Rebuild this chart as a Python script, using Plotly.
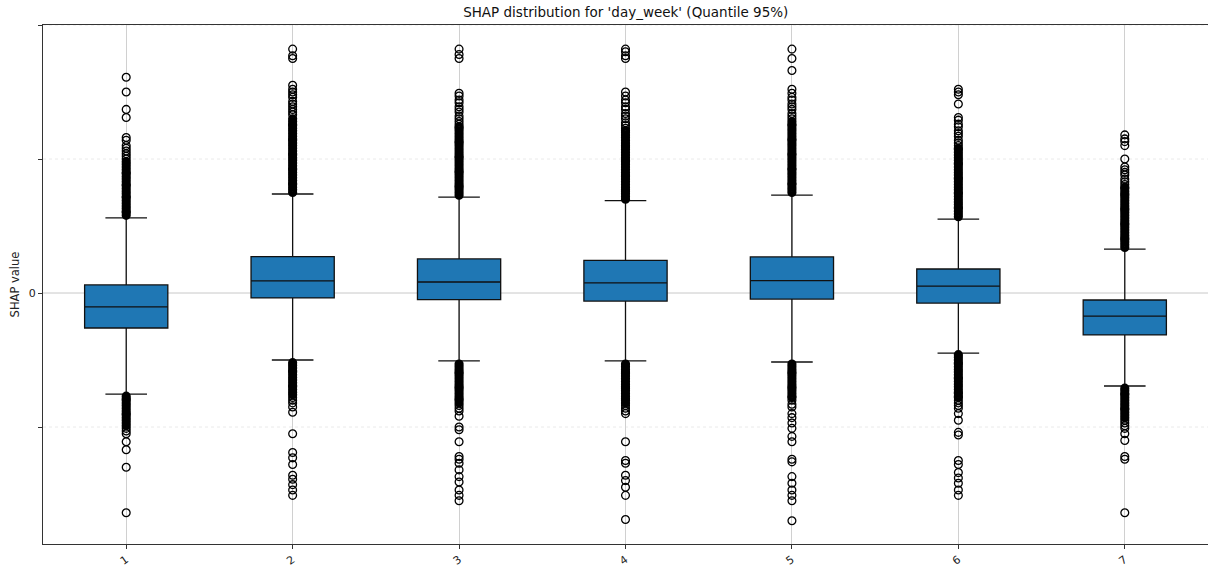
import plotly.graph_objects as go

# Day-of-week categories
days = ["1", "2", "3", "4", "5", "6", "7"]

# Box statistics per day (SHAP value units)
q1 = [-0.0261, -0.0037, -0.0049, -0.0060, -0.0045, -0.0075, -0.0313]
median = [-0.0104, 0.0090, 0.0082, 0.0075, 0.0093, 0.0052, -0.0172]
q3 = [0.0060, 0.0272, 0.0254, 0.0243, 0.0269, 0.0179, -0.0052]
lower_whisker = [-0.0754, -0.0500, -0.0507, -0.0507, -0.0515, -0.0448, -0.0694]
upper_whisker = [0.0560, 0.0739, 0.0716, 0.0690, 0.0731, 0.0552, 0.0328]

# Outliers lying in the densely packed runs just beyond each whisker
dense_outliers = [
    [0.058, 0.060, 0.061, 0.063, 0.065, 0.067, 0.069, 0.071, 0.072, 0.074, 0.076, 0.078, 0.080, 0.081,
     0.083, 0.085, 0.087, 0.089, 0.090, 0.092, 0.094, 0.096, 0.098,
     -0.077, -0.079, -0.080, -0.082, -0.084, -0.086, -0.088, -0.090, -0.091, -0.093, -0.095, -0.097, -0.099],
    [0.075, 0.077, 0.079, 0.081, 0.082, 0.084, 0.086, 0.088, 0.090, 0.092, 0.093, 0.095, 0.097, 0.099,
     0.101, 0.103, 0.104, 0.106, 0.108, 0.110, 0.112, 0.114, 0.115, 0.117, 0.119, 0.121, 0.123, 0.125,
     0.126, 0.128, 0.130,
     -0.052, -0.054, -0.056, -0.058, -0.059, -0.061, -0.063, -0.065, -0.067, -0.069, -0.070, -0.072,
     -0.074, -0.076],
    [0.073, 0.075, 0.077, 0.079, 0.080, 0.082, 0.084, 0.086, 0.088, 0.090, 0.091, 0.093, 0.095, 0.097,
     0.099, 0.101, 0.102, 0.104, 0.106, 0.108, 0.110, 0.112, 0.113, 0.115, 0.117, 0.119, 0.121, 0.123,
     0.124,
     -0.053, -0.055, -0.057, -0.059, -0.060, -0.062, -0.064, -0.066, -0.068, -0.070, -0.071, -0.073,
     -0.075, -0.077, -0.079, -0.080, -0.082],
    [0.070, 0.072, 0.074, 0.076, 0.077, 0.079, 0.081, 0.083, 0.085, 0.087, 0.088, 0.090, 0.092, 0.094,
     0.096, 0.098, 0.099, 0.101, 0.103, 0.105, 0.107, 0.109, 0.110, 0.112, 0.114, 0.116, 0.118, 0.120,
     0.121,
     -0.053, -0.055, -0.057, -0.059, -0.060, -0.062, -0.064, -0.066, -0.068, -0.070, -0.071, -0.073,
     -0.075, -0.077, -0.079, -0.080, -0.082],
    [0.075, 0.077, 0.079, 0.081, 0.082, 0.084, 0.086, 0.088, 0.090, 0.092, 0.093, 0.095, 0.097, 0.099,
     0.101, 0.103, 0.104, 0.106, 0.108, 0.110, 0.112, 0.114, 0.115, 0.117, 0.119, 0.121, 0.123, 0.125,
     0.126, 0.128,
     -0.053, -0.055, -0.057, -0.059, -0.060, -0.062, -0.064, -0.066, -0.068, -0.070, -0.071, -0.073,
     -0.075, -0.077, -0.078],
    [0.057, 0.059, 0.061, 0.063, 0.064, 0.066, 0.068, 0.070, 0.072, 0.074, 0.075, 0.077, 0.079, 0.081,
     0.083, 0.085, 0.086, 0.088, 0.090, 0.092, 0.094, 0.096, 0.097, 0.099, 0.101, 0.103, 0.105, 0.107,
     0.108,
     -0.046, -0.048, -0.050, -0.052, -0.053, -0.055, -0.057, -0.059, -0.061, -0.063, -0.064, -0.066,
     -0.068, -0.070, -0.072, -0.074, -0.075, -0.077, -0.078],
    [0.034, 0.036, 0.038, 0.040, 0.041, 0.043, 0.045, 0.047, 0.049, 0.051, 0.052, 0.054, 0.056, 0.058,
     0.060, 0.062, 0.063, 0.065, 0.067, 0.069, 0.071, 0.073, 0.074, 0.076, 0.078, 0.079,
     -0.071, -0.073, -0.075, -0.076, -0.078, -0.080, -0.082, -0.084, -0.086, -0.087, -0.089, -0.091,
     -0.093],
]

# Remaining, more scattered outliers
sparse_outliers = [
    [0.100, 0.102, 0.104, 0.106, 0.108, 0.110, 0.114, 0.116, 0.131, 0.137, 0.150, 0.161,
     -0.101, -0.103, -0.105, -0.111, -0.117, -0.130, -0.164],
    [0.133, 0.135, 0.137, 0.139, 0.141, 0.143, 0.146, 0.148, 0.150, 0.152, 0.155, 0.175, 0.177, 0.182,
     -0.078, -0.080, -0.082, -0.085, -0.089, -0.105, -0.119, -0.123, -0.128, -0.136, -0.139, -0.143,
     -0.147, -0.151],
    [0.126, 0.128, 0.130, 0.132, 0.135, 0.137, 0.139, 0.142, 0.144, 0.147, 0.149, 0.175, 0.178, 0.182,
     -0.084, -0.086, -0.088, -0.092, -0.100, -0.102, -0.111, -0.122, -0.124, -0.127, -0.132, -0.137,
     -0.141, -0.147, -0.151, -0.155],
    [0.123, 0.125, 0.127, 0.130, 0.132, 0.134, 0.137, 0.139, 0.142, 0.144, 0.147, 0.150, 0.175, 0.177,
     0.180, 0.182,
     -0.084, -0.086, -0.088, -0.090, -0.111, -0.125, -0.127, -0.136, -0.140, -0.145, -0.151, -0.169],
    [0.130, 0.132, 0.134, 0.137, 0.139, 0.141, 0.144, 0.146, 0.149, 0.152, 0.166, 0.175, 0.182,
     -0.080, -0.083, -0.085, -0.090, -0.093, -0.097, -0.101, -0.107, -0.111, -0.124, -0.126, -0.137,
     -0.142, -0.147, -0.151, -0.155, -0.170],
    [0.110, 0.112, 0.114, 0.117, 0.119, 0.121, 0.124, 0.126, 0.129, 0.131, 0.141, 0.148, 0.150, 0.152,
     -0.080, -0.082, -0.084, -0.086, -0.090, -0.095, -0.104, -0.106, -0.125, -0.128, -0.134, -0.138,
     -0.142, -0.147, -0.151],
    [0.081, 0.083, 0.085, 0.088, 0.090, 0.092, 0.094, 0.100, 0.110, 0.113, 0.115, 0.118,
     -0.095, -0.097, -0.099, -0.101, -0.105, -0.110, -0.122, -0.124, -0.164],
]

# Y ticks: only zero carries a label
y_tickvals = [-0.1, 0.0, 0.1, 0.2]
y_ticktext = ["", "0", "", ""]
y_range = [-0.1873, 0.2]

positions = list(range(1, len(days) + 1))

fig = go.Figure()

for pos, a, m, b, lo, hi in zip(positions, q1, median, q3, lower_whisker, upper_whisker):
    fig.add_trace(go.Box(
        x=[pos], q1=[a], median=[m], q3=[b], lowerfence=[lo], upperfence=[hi],
        boxpoints=False, width=0.5, whiskerwidth=0.5,
        fillcolor="#1f77b4", line=dict(color="#111111", width=1.3),
        showlegend=False, hoverinfo="skip",
    ))

dense_x, dense_y, sparse_x, sparse_y = [], [], [], []
for pos, d, s in zip(positions, dense_outliers, sparse_outliers):
    dense_x += [pos] * len(d)
    dense_y += d
    sparse_x += [pos] * len(s)
    sparse_y += s

fig.add_trace(go.Scatter(
    x=dense_x, y=dense_y, mode="markers", showlegend=False, hoverinfo="skip",
    marker=dict(symbol="circle-open", size=6, color="black", line=dict(width=3.2, color="black")),
))
fig.add_trace(go.Scatter(
    x=sparse_x, y=sparse_y, mode="markers", showlegend=False, hoverinfo="skip",
    marker=dict(symbol="circle-open", size=7.8, color="black", line=dict(width=1.3, color="black")),
))

# Horizontal reference lines: solid at zero, dotted at the other ticks
shapes = []
for v in y_tickvals:
    solid = v == 0
    shapes.append(dict(
        type="line", xref="paper", x0=0, x1=1, yref="y", y0=v, y1=v, layer="below",
        line=dict(color="#c8c8c8" if solid else "#e4e4e4", width=1 if solid else 0.8,
                  dash="solid" if solid else "dot"),
    ))

font_family = "DejaVu Sans, Liberation Sans, sans-serif"
text_color = "#222222"

fig.update_layout(
    width=1208, height=570,
    margin=dict(l=43, r=0, t=25, b=26),
    paper_bgcolor="white", plot_bgcolor="white",
    font=dict(family=font_family, color=text_color, size=11),
    title=dict(text="SHAP distribution for 'day_week' (Quantile 95%)", x=0.518, xanchor="center",
               y=0.978, yanchor="middle", font=dict(size=13.5, color="#111111", family=font_family)),
    shapes=shapes,
    xaxis=dict(
        range=[0.5, 7.5], tickvals=positions, ticktext=days, tickangle=-35,
        showgrid=True, gridcolor="#d0d0d0", gridwidth=1, zeroline=False,
        showline=True, linecolor="#333333", linewidth=1, mirror=True,
        ticks="outside", ticklen=4, tickcolor="#333333",
        tickfont=dict(size=11, color=text_color, family=font_family),
    ),
    yaxis=dict(
        range=y_range, tickvals=y_tickvals, ticktext=y_ticktext,
        showgrid=False, zeroline=False,
        showline=True, linecolor="#333333", linewidth=1,
        ticks="outside", ticklen=4, tickcolor="#333333",
        tickfont=dict(size=11, color=text_color, family=font_family),
        title=dict(text="SHAP value", font=dict(size=11.5, color=text_color, family=font_family),
                   standoff=6),
    ),
)

fig.write_html("out.html")
